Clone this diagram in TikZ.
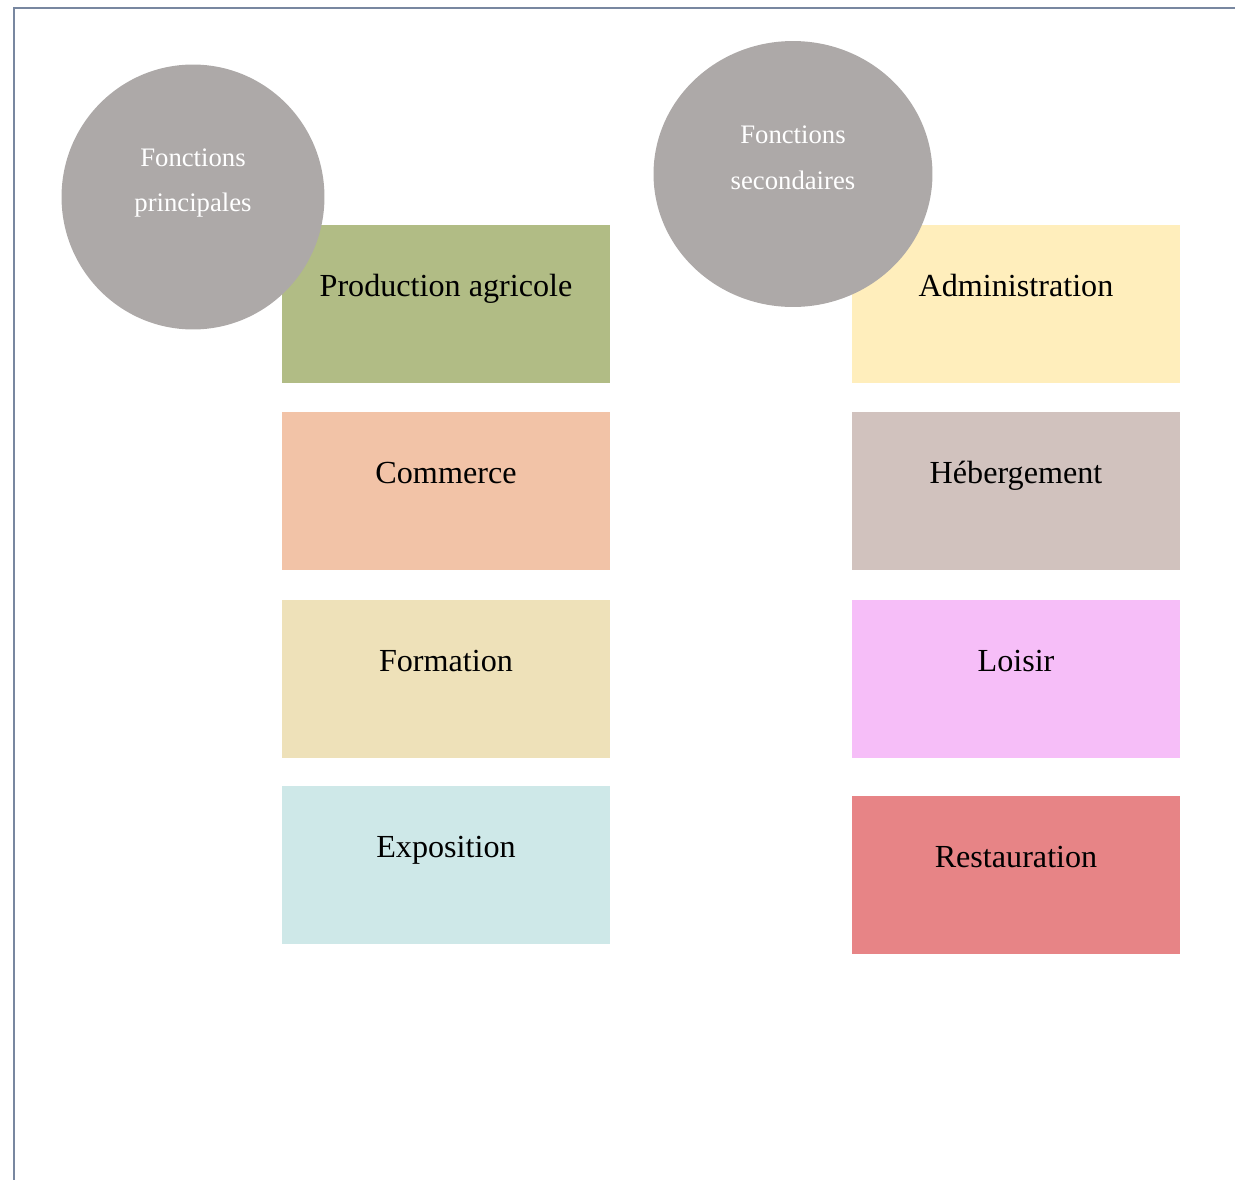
\documentclass[tikz,border=0pt]{standalone}
\usepackage{fontspec}
\setmainfont{Liberation Serif}
\usepackage{xcolor}
\usepackage{tikz}
\usetikzlibrary{positioning,shapes.geometric}
\definecolor{frame}{RGB}{120,135,160}
\definecolor{disc}{RGB}{173,169,168}
\definecolor{agri}{RGB}{177,188,133}
\definecolor{comm}{RGB}{242,195,167}
\definecolor{form}{RGB}{238,225,185}
\definecolor{expo}{RGB}{206,232,232}
\definecolor{admin}{RGB}{255,238,188}
\definecolor{heber}{RGB}{209,194,190}
\definecolor{loisir}{RGB}{246,190,248}
\definecolor{resto}{RGB}{231,132,134}
\newcommand{\bigtxt}{\fontsize{18.3}{22}\selectfont}

\begin{document}
\begin{tikzpicture}[
  x=0.02cm,y=-0.02cm,
  fbox/.style={rectangle,draw=none,inner sep=0pt,minimum width=6.56cm,
               text height=1.42cm,text depth=1.74cm,align=center,font=\bigtxt},
  disk/.style={ellipse,draw=none,fill=disc,inner sep=0pt},
  disktxt/.style={text=white,align=center,font=\fontsize{15.2}{26}\selectfont},
]
\useasboundingbox (0,0) rectangle (1235,1180);
\draw[frame,line width=1.1pt] (14,1180) -- (14,8) -- (1235,8);

% left column
\node[fbox,fill=agri] (agri) at (446,304) {Production agricole};
\node[fbox,fill=comm] (comm) at (446,491) {Commerce};
\node[fbox,fill=form] (form) at (446,679) {Formation};
\node[fbox,fill=expo] (expo) at (446,865) {Exposition};

% right column
\node[fbox,fill=admin] (admin) at (1016,304) {Administration};
\node[fbox,fill=heber] (heber) at (1016,491) {Hébergement};
\node[fbox,fill=loisir] (loisir) at (1016,679) {Loisir};
\node[fbox,fill=resto] (resto) at (1016,875) {Restauration};

% headings
\node[disk,minimum width=5.26cm,minimum height=5.3cm] (princ) at (193,197) {};
\node[disktxt] (princtxt) at (193,183) {Fonctions\\principales};
\node[disk,minimum width=5.58cm,minimum height=5.32cm] (second) at (793,174) {};
\node[disktxt] (secondtxt) at (793,158) {Fonctions\\secondaires};
\end{tikzpicture}
\end{document}
